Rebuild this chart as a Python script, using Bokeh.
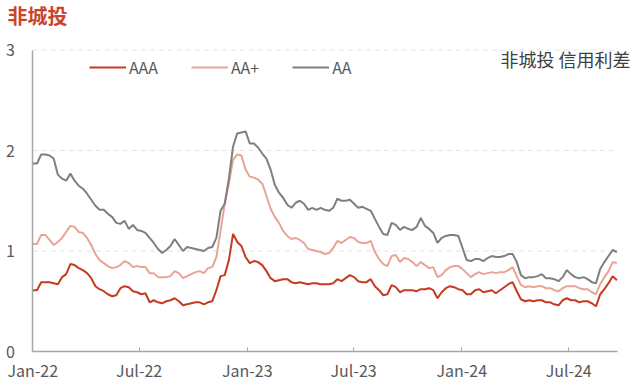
import pandas as pd
from bokeh.plotting import figure
from bokeh.models import (ColumnDataSource, Legend, LegendItem, Label, MonthsTicker,
                          DatetimeTickFormatter, Range1d, FixedTicker)
from bokeh.embed import file_html
from bokeh.resources import INLINE

# weekly observation dates (Jan 2022 - Sep 2024)
dates = pd.date_range("2022-01-01", "2024-09-21", periods=141)

aa = [
    1.87, 1.87, 1.96, 1.96, 1.95, 1.92, 1.76, 1.72, 1.70, 1.77,
    1.70, 1.65, 1.62, 1.57, 1.51, 1.45, 1.41, 1.41, 1.37, 1.34,
    1.28, 1.27, 1.30, 1.22, 1.26, 1.21, 1.20, 1.18, 1.13, 1.08,
    1.02, 0.98, 1.01, 1.05, 1.12, 1.06, 1.00, 1.04, 1.03, 1.02,
    1.01, 1.00, 1.03, 1.04, 1.13, 1.40, 1.47, 1.72, 2.04, 2.17,
    2.18, 2.19, 2.07, 2.07, 2.03, 1.97, 1.92, 1.81, 1.66, 1.58,
    1.53, 1.46, 1.43, 1.48, 1.50, 1.47, 1.41, 1.43, 1.41, 1.43,
    1.41, 1.40, 1.43, 1.52, 1.50, 1.50, 1.51, 1.47, 1.43, 1.44,
    1.42, 1.40, 1.32, 1.24, 1.17, 1.16, 1.28, 1.26, 1.21, 1.24,
    1.22, 1.21, 1.24, 1.33, 1.25, 1.22, 1.18, 1.08, 1.13, 1.15,
    1.16, 1.16, 1.15, 1.03, 0.91, 0.90, 0.92, 0.92, 0.90, 0.93,
    0.95, 0.94, 0.94, 0.95, 0.97, 0.97, 0.89, 0.76, 0.73, 0.74,
    0.74, 0.75, 0.77, 0.73, 0.73, 0.72, 0.70, 0.74, 0.81, 0.77,
    0.74, 0.73, 0.74, 0.72, 0.69, 0.68, 0.82, 0.89, 0.95, 1.01,
    0.99,
]

aa_plus = [
    1.07, 1.07, 1.16, 1.16, 1.11, 1.06, 1.09, 1.13, 1.19, 1.25,
    1.24, 1.19, 1.18, 1.13, 1.06, 0.97, 0.91, 0.88, 0.85, 0.83,
    0.84, 0.86, 0.90, 0.88, 0.84, 0.85, 0.84, 0.84, 0.78, 0.78,
    0.74, 0.74, 0.74, 0.75, 0.80, 0.78, 0.73, 0.75, 0.77, 0.79,
    0.80, 0.78, 0.83, 0.84, 0.94, 1.20, 1.47, 1.67, 1.91, 1.96,
    1.95, 1.81, 1.74, 1.73, 1.71, 1.67, 1.55, 1.42, 1.34, 1.28,
    1.20, 1.15, 1.12, 1.13, 1.11, 1.08, 1.02, 1.01, 1.00, 0.99,
    0.97, 0.98, 1.03, 1.10, 1.08, 1.11, 1.14, 1.13, 1.09, 1.08,
    1.08, 1.10, 0.99, 0.92, 0.87, 0.85, 0.95, 0.96, 0.89, 0.93,
    0.92, 0.89, 0.85, 0.89, 0.86, 0.83, 0.84, 0.74, 0.76, 0.81,
    0.84, 0.85, 0.85, 0.82, 0.78, 0.74, 0.77, 0.79, 0.77, 0.78,
    0.79, 0.78, 0.79, 0.79, 0.81, 0.84, 0.75, 0.66, 0.64, 0.65,
    0.64, 0.65, 0.65, 0.63, 0.63, 0.61, 0.60, 0.63, 0.65, 0.65,
    0.65, 0.63, 0.62, 0.62, 0.59, 0.57, 0.67, 0.74, 0.80, 0.89,
    0.88,
]

aaa = [
    0.61, 0.61, 0.69, 0.69, 0.69, 0.68, 0.67, 0.74, 0.77, 0.87,
    0.86, 0.83, 0.81, 0.78, 0.73, 0.65, 0.62, 0.60, 0.57, 0.55,
    0.56, 0.63, 0.65, 0.64, 0.60, 0.59, 0.57, 0.58, 0.49, 0.51,
    0.49, 0.48, 0.50, 0.51, 0.53, 0.50, 0.46, 0.47, 0.48, 0.49,
    0.49, 0.47, 0.49, 0.50, 0.61, 0.75, 0.76, 0.91, 1.17, 1.09,
    1.05, 0.94, 0.88, 0.90, 0.89, 0.86, 0.80, 0.73, 0.70, 0.71,
    0.72, 0.72, 0.69, 0.68, 0.69, 0.68, 0.67, 0.68, 0.68, 0.67,
    0.67, 0.67, 0.68, 0.72, 0.70, 0.73, 0.76, 0.74, 0.70, 0.69,
    0.69, 0.72, 0.65, 0.61, 0.56, 0.57, 0.66, 0.64, 0.59, 0.61,
    0.61, 0.61, 0.60, 0.62, 0.62, 0.63, 0.61, 0.53, 0.59, 0.63,
    0.65, 0.64, 0.62, 0.61, 0.57, 0.57, 0.61, 0.62, 0.59, 0.60,
    0.61, 0.58, 0.61, 0.64, 0.67, 0.69, 0.60, 0.52, 0.50, 0.51,
    0.50, 0.51, 0.51, 0.49, 0.49, 0.47, 0.46, 0.51, 0.53, 0.51,
    0.51, 0.49, 0.50, 0.50, 0.48, 0.45, 0.57, 0.62, 0.68, 0.75,
    0.71,
]

series_names = ["AAA", "AA+", "AA"]
series_colors = ["#C53B1F", "#E9A495", "#7F7F7F"]
y_ticks = [0, 1, 2, 3]
title_text = "非城投"
note_text = "非城投 信用利差"

for arr in (aa, aa_plus, aaa):
    if len(arr) != len(dates):
        raise ValueError(f"length mismatch {len(arr)} vs {len(dates)}")

FONT = "Noto Sans CJK SC"
TXT = "#595959"

src = ColumnDataSource(dict(date=dates, aaa=aaa, aa_plus=aa_plus, aa=aa))

axis_start = pd.Timestamp("2022-01-01")
axis_end = pd.Timestamp("2024-09-22")
view_start = pd.Timestamp("2021-11-07")   # room at left for the y labels / title
view_end = pd.Timestamp("2024-10-21")     # room at right for the note
y_top = 3.4925                             # room above 3 for title / note
y_bottom = -0.338                          # room below 0 for the date labels

p = figure(width=640, height=385, x_axis_type="datetime",
           output_backend="svg", toolbar_location=None,
           x_range=Range1d(view_start, view_end),
           y_range=Range1d(y_bottom, y_top),
           min_border_left=0, min_border_right=6,
           min_border_top=0, min_border_bottom=0)
p.outline_line_color = None
p.background_fill_color = "white"
p.border_fill_color = "white"

# dashed horizontal grid lines, spanning the axis extent only
grid_src = ColumnDataSource(dict(x0=[axis_start] * 3, x1=[axis_end] * 3,
                                 y=y_ticks[1:]))
p.segment(x0="x0", x1="x1", y0="y", y1="y", source=grid_src,
          line_color="#E3E3E3", line_width=1, line_dash="5 4")

r_aaa = p.line("date", "aaa", source=src, line_color=series_colors[0], line_width=2)
r_aap = p.line("date", "aa_plus", source=src, line_color=series_colors[1], line_width=2)
r_aa = p.line("date", "aa", source=src, line_color=series_colors[2], line_width=2)

# axes (pinned to the data origin so that the frame can span the whole canvas)
p.xaxis.fixed_location = 0
p.xaxis.bounds = (axis_start, axis_end)
p.xaxis.ticker = MonthsTicker(months=[0, 6])
p.xaxis.formatter = DatetimeTickFormatter(months="%b-%y", years="%b-%y", days="%b-%y")
p.xaxis.axis_line_color = "#A6A6A6"
p.xaxis.axis_line_width = 1.5
p.xaxis.major_tick_line_color = "#A6A6A6"
p.xaxis.major_tick_in = 4
p.xaxis.major_tick_out = 0
p.xaxis.minor_tick_line_color = None
p.xaxis.major_label_text_font = FONT
p.xaxis.major_label_text_font_size = "16px"
p.xaxis.major_label_text_color = TXT
p.xaxis.major_label_standoff = 6

p.yaxis.fixed_location = axis_start.timestamp() * 1000.0
p.yaxis.bounds = (0, 3)
p.yaxis.ticker = FixedTicker(ticks=y_ticks)
p.yaxis.axis_line_color = "#A6A6A6"
p.yaxis.axis_line_width = 1.5
p.yaxis.major_tick_line_color = None
p.yaxis.minor_tick_line_color = None
p.yaxis.major_label_text_font = FONT
p.yaxis.major_label_text_font_size = "16px"
p.yaxis.major_label_text_color = TXT
p.yaxis.major_label_standoff = 12

p.xgrid.grid_line_color = None
p.ygrid.grid_line_color = None

legend = Legend(items=[LegendItem(label=series_names[0], renderers=[r_aaa]),
                       LegendItem(label=series_names[1], renderers=[r_aap]),
                       LegendItem(label=series_names[2], renderers=[r_aa])],
                orientation="horizontal", location=(89, 306),
                border_line_color=None, background_fill_alpha=0,
                glyph_width=37, glyph_height=20, label_standoff=3, spacing=33,
                padding=0, margin=0,
                label_text_font=FONT, label_text_font_size="16px",
                label_text_color=TXT)
p.add_layout(legend, "center")

p.add_layout(Label(x=7, y=385, x_units="screen", y_units="screen", text=title_text,
                   text_font=FONT, text_font_size="20px", text_font_style="bold",
                   text_color="#C8452A", text_align="left", text_baseline="top"))
p.add_layout(Label(x=630, y=327, x_units="screen", y_units="screen", text=note_text,
                   text_font=FONT, text_font_size="18px", text_color="#404040",
                   text_align="right", text_baseline="middle"))

open("out.html", "w").write(file_html(p, INLINE))
